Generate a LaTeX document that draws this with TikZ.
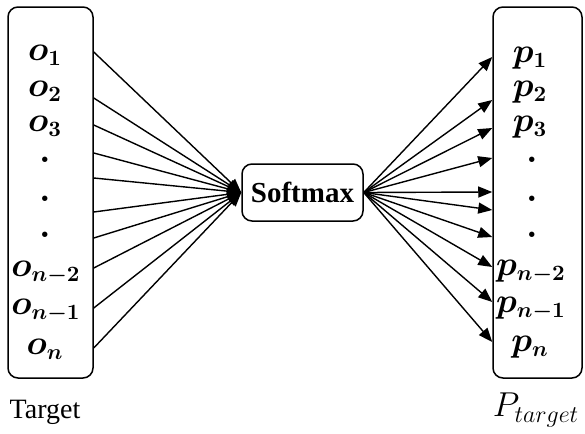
\documentclass[tikz,border=0pt]{standalone}
\usepackage{amsmath}
\usepackage{fontspec}
\setmainfont{Liberation Serif}
\usetikzlibrary{arrows.meta}

\begin{document}
\begin{tikzpicture}[x=0.5pt, y=-0.5pt,
  every node/.style = {font=\fontsize{14}{16}\selectfont},
  entry/.style = {font=\fontsize{16}{18}\selectfont, inner sep=0pt},
  vecbox/.style = {draw, line width=0.75pt, rounded corners=5pt,
    minimum width=42.5pt, minimum height=185.5pt},
  link/.style = {line width=0.7pt,
    -{Triangle[length=7pt,width=5.5pt]}}]
  \useasboundingbox (0,0) rectangle (585,434);

  % the two columns and the softmax block
  \node[vecbox] (inbox) at (50.5,192.5) {};
  \node[vecbox, minimum width=44.5pt] (outbox) at (537.5,192.5) {};
  \node[draw, line width=0.75pt, rounded corners=5pt,
    minimum width=60.5pt, minimum height=28.5pt,
    font=\fontsize{14.5}{16}\selectfont\bfseries] (soft) at (302.5,192.5) {Softmax};

  % entries of the input column
  \node[entry] (o1) at (45,55) {$\boldsymbol{o_1}$};
  \node[entry] (o2) at (45,91) {$\boldsymbol{o_2}$};
  \node[entry] (o3) at (45,126) {$\boldsymbol{o_3}$};
  \node[entry] (od1) at (45,160) {$\boldsymbol{.}$};
  \node[entry] (od2) at (45,199) {$\boldsymbol{.}$};
  \node[entry] (od3) at (45,235) {$\boldsymbol{.}$};
  \node[entry] (on2) at (46,273) {$\boldsymbol{o_{n-2}}$};
  \node[entry] (on1) at (46,311) {$\boldsymbol{o_{n-1}}$};
  \node[entry] (on) at (45,349) {$\boldsymbol{o_n}$};

  % entries of the output column
  \node[entry] (p1) at (530,58) {$\boldsymbol{p_1}$};
  \node[entry] (p2) at (530,92) {$\boldsymbol{p_2}$};
  \node[entry] (p3) at (530,127) {$\boldsymbol{p_3}$};
  \node[entry] (pd1) at (532,160) {$\boldsymbol{.}$};
  \node[entry] (pd2) at (532,199) {$\boldsymbol{.}$};
  \node[entry] (pd3) at (532,235) {$\boldsymbol{.}$};
  \node[entry] (pn2) at (531,272) {$\boldsymbol{p_{n-2}}$};
  \node[entry] (pn1) at (531,309) {$\boldsymbol{p_{n-1}}$};
  \node[entry] (pn) at (530,347) {$\boldsymbol{p_n}$};

  \node (tgt) at (45,412) {Target};
  \node[font=\fontsize{18}{20}\selectfont] (ptgt) at (536,410) {$P_{target}$};

  % connectors into and out of softmax
  \foreach \y [count=\i] in {52,98,125,153,178,212,238,268,308,348} {
    \coordinate (l\i) at (inbox.east |- 0,\y);
    \draw[link] (l\i) -- (soft.west);
  }
  \foreach \y [count=\i] in {57,100,128,158,192,210,237,267,302,342} {
    \coordinate (r\i) at (outbox.west |- 0,\y);
    \draw[link] (soft.east) -- (r\i);
  }
\end{tikzpicture}
\end{document}
